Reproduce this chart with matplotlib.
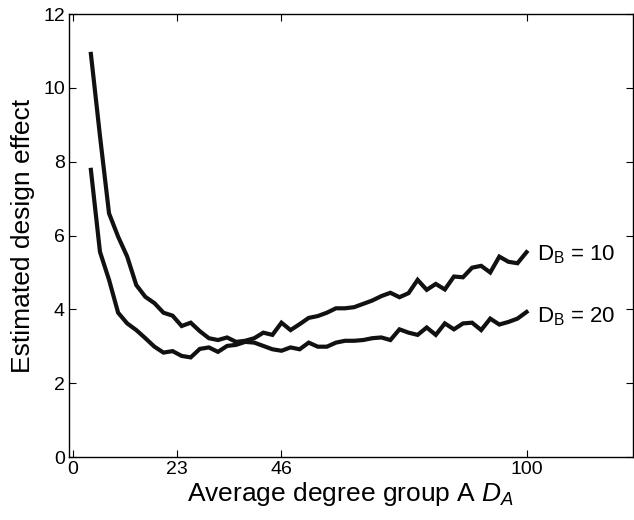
import numpy as np
import matplotlib as mpl
import matplotlib.pyplot as plt

mpl.rcParams.update({
    "font.family": "Liberation Sans",
    "mathtext.fontset": "custom",
    "mathtext.rm": "Liberation Sans",
    "mathtext.it": "Liberation Sans:italic",
})

# average degree of group A
degree_a = np.arange(4, 101, 2)

# estimated design effect, D_B = 10
effect_db10 = [10.92, 8.70, 6.60, 5.97, 5.43, 4.66, 4.34, 4.17, 3.91, 3.83,
               3.55, 3.64, 3.41, 3.22, 3.17, 3.24, 3.12, 3.15, 3.22, 3.37,
               3.31, 3.64, 3.44, 3.60, 3.77, 3.82, 3.91, 4.03, 4.03, 4.06,
               4.15, 4.24, 4.36, 4.45, 4.33, 4.44, 4.80, 4.53, 4.69, 4.54,
               4.89, 4.87, 5.13, 5.18, 5.00, 5.43, 5.29, 5.25, 5.55]

# estimated design effect, D_B = 20
effect_db20 = [7.78, 5.56, 4.80, 3.91, 3.62, 3.44, 3.22, 2.99, 2.83, 2.87,
               2.74, 2.70, 2.93, 2.97, 2.85, 3.01, 3.04, 3.12, 3.10, 3.01,
               2.92, 2.88, 2.97, 2.92, 3.10, 2.99, 2.99, 3.10, 3.15, 3.15,
               3.17, 3.22, 3.24, 3.17, 3.46, 3.37, 3.31, 3.51, 3.31, 3.62,
               3.46, 3.62, 3.64, 3.44, 3.75, 3.59, 3.66, 3.75, 3.93]

x_ticks = [0, 23, 46, 100]
y_ticks = [0, 2, 4, 6, 8, 10, 12]

fig = plt.figure(figsize=(6.34, 5.2), dpi=100)
ax = fig.add_axes([0.109, 0.121, 0.889, 0.852])

ax.plot(degree_a, effect_db10, color='#111111', linewidth=3, solid_joinstyle='miter')
ax.plot(degree_a, effect_db20, color='#111111', linewidth=3, solid_joinstyle='miter')

ax.text(102.2, effect_db10[-1] - 0.08, r'D$_\mathrm{B}$ = 10', fontsize=16, va='center', ha='left')
ax.text(102.2, effect_db20[-1] - 0.13, r'D$_\mathrm{B}$ = 20', fontsize=16, va='center', ha='left')

ax.set_xlim(-0.8, 123.4)
ax.set_ylim(0, 12)
ax.set_xticks(x_ticks)
ax.set_yticks(y_ticks)
ax.tick_params(direction='in', top=True, right=True, length=5, width=0.8,
               labelsize=14, pad=3)
for s in ax.spines.values():
    s.set_linewidth(1.0)

ax.set_xlabel('Average degree group A $D_A$', fontsize=19, labelpad=1)
ax.set_ylabel('Estimated design effect', fontsize=19, labelpad=6)

plt.savefig('out.png', dpi=100)
plt.close()
